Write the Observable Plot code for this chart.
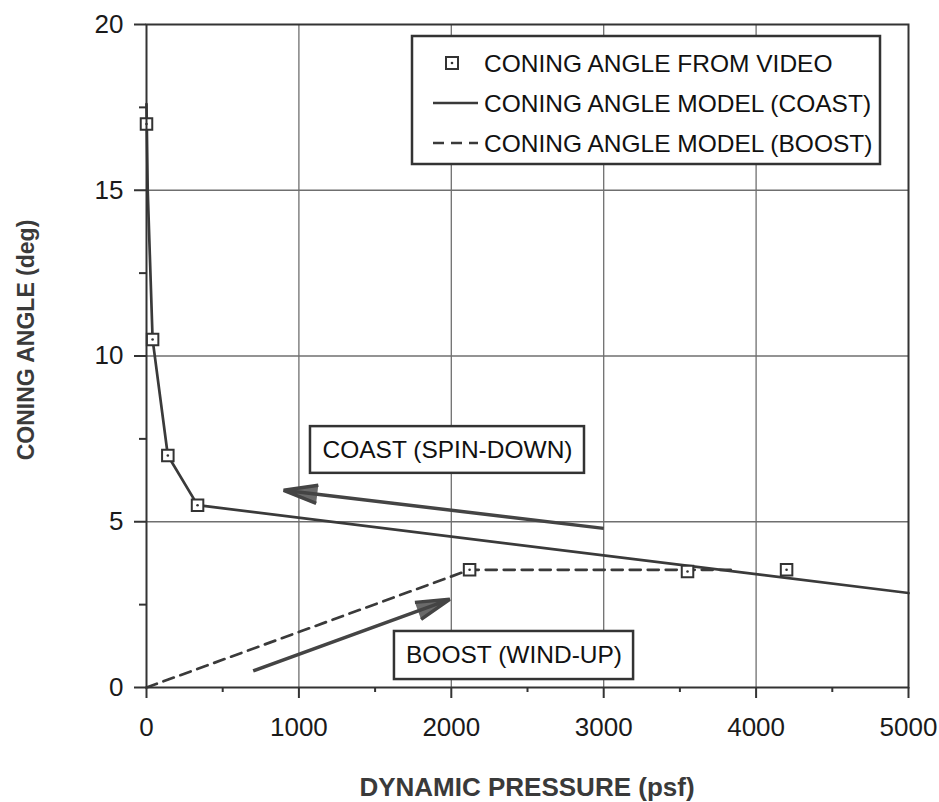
<!DOCTYPE html>
<html><head><meta charset="utf-8">
<script src="https://cdn.jsdelivr.net/npm/d3@7"></script>
<script src="https://cdn.jsdelivr.net/npm/@observablehq/plot@0.6"></script>
<style>html,body{margin:0;padding:0;background:#fff} svg{display:block}</style>
</head><body><div id="chart"></div>
<script>
// ---- data ----
const videoX = [0, 40, 140, 335, 2120, 3550, 4200];
const videoY = [17.0, 10.5, 7.0, 5.5, 3.55, 3.5, 3.55];
const coastX = [0, 8, 40, 140, 335, 5000];
const coastY = [17.6, 15.0, 10.5, 7.0, 5.5, 2.85];
const boostX = [0, 2120, 3870];
const boostY = [0, 3.55, 3.55];
const xTicks = [0, 1000, 2000, 3000, 4000, 5000];
const xMinor = [500, 1500, 2500, 3500, 4500];
const yTicks = [0, 5, 10, 15, 20];
const yMinor = [2.5, 7.5, 12.5, 17.5];
const arrowX1 = [3000, 700];
const arrowY1 = [4.8, 0.5];
const arrowX2 = [900, 1990];
const arrowY2 = [5.95, 2.66];
const noteText = ["COAST (SPIN-DOWN)", "BOOST (WIND-UP)"];
const noteX1 = [1076, 1627];
const noteX2 = [2874, 3196];
const noteY1 = [6.46, 0.24];
const noteY2 = [7.87, 1.69];
const legendLabels = ["CONING ANGLE FROM VIDEO", "CONING ANGLE MODEL (COAST)", "CONING ANGLE MODEL (BOOST)"];
const xLabel = "DYNAMIC PRESSURE (psf)";
const yLabel = "CONING ANGLE (deg)";

// ---- tables built from arrays ----
const video = videoX.map((x, i) => ({x, y: videoY[i]}));
const coast = coastX.map((x, i) => ({x, y: coastY[i]}));
const boost = boostX.map((x, i) => ({x, y: boostY[i]}));
const arrows = arrowX1.map((_, i) => ({x1: arrowX1[i], y1: arrowY1[i], x2: arrowX2[i], y2: arrowY2[i]}));
const notes = noteText.map((t, i) => ({t, x1: noteX1[i], x2: noteX2[i], y1: noteY1[i], y2: noteY2[i],
  cx: (noteX1[i] + noteX2[i]) / 2, cy: (noteY1[i] + noteY2[i]) / 2}));

const ink = "#333";
const font = "'Liberation Sans', Arial, Helvetica, sans-serif";
const fmt = d3.format("d");

const plot = Plot.plot({
  width: 939, height: 802,
  marginLeft: 146, marginRight: 31, marginTop: 24, marginBottom: 115,
  x: {domain: [0, 5000]},
  y: {domain: [0, 20]},
  style: {fontFamily: font, color: "#1a1a1a", background: "#fff", overflow: "visible"},
  marks: [
    Plot.gridX(xTicks.slice(1, -1), {stroke: "#6f6f6f", strokeOpacity: 1, strokeWidth: 1.3}),
    Plot.gridY(yTicks.slice(1, -1), {stroke: "#6f6f6f", strokeOpacity: 1, strokeWidth: 1.3}),
    Plot.axisX(xTicks, {tickSize: 11, tickPadding: 19, fontSize: 26, tickFormat: fmt, stroke: ink, strokeWidth: 2, label: null}),
    Plot.axisX(xMinor, {tickSize: 5, tickFormat: () => "", stroke: ink, strokeWidth: 2, label: null}),
    Plot.axisY(yTicks, {tickSize: 12, tickPadding: 11, fontSize: 26, tickFormat: fmt, stroke: ink, strokeWidth: 2, label: null}),
    Plot.axisY(yMinor, {tickSize: 7, tickFormat: () => "", stroke: ink, strokeWidth: 2, label: null}),
    Plot.rect(notes, {x1: "x1", x2: "x2", y1: "y1", y2: "y2", fill: "#fff", stroke: ink, strokeWidth: 2.5}),
    Plot.text(notes, {x: "cx", y: "cy", text: "t", fontSize: 24.5, fill: "#111"}),
    Plot.line(coast, {x: "x", y: "y", stroke: "#3a3a3a", strokeWidth: 2.7}),
    Plot.line(boost, {x: "x", y: "y", stroke: "#3a3a3a", strokeWidth: 2.7, strokeDasharray: "11,7"}),
    Plot.arrow(arrows, {x1: "x1", y1: "y1", x2: "x2", y2: "y2", stroke: "#444", fill: "#6a6a6a",
      strokeWidth: 3.5, headLength: 15, headAngle: 30, strokeLinecap: "butt"}),
    Plot.dot(video, {x: "x", y: "y", symbol: "square", r: 6.5, stroke: ink, strokeWidth: 2, fill: "#fff"}),
    Plot.dot(video, {x: "x", y: "y", r: 1.3, fill: ink}),
    Plot.frame({stroke: ink, strokeWidth: 2})
  ]
});

document.getElementById("chart").appendChild(plot);

// ---- legend and axis titles ----
const svg = d3.select(plot);
const lg = svg.append("g").attr("font-family", font).attr("text-anchor", "start");
lg.append("rect").attr("x", 412).attr("y", 36).attr("width", 468).attr("height", 128)
  .attr("fill", "#fff").attr("stroke", ink).attr("stroke-width", 2.5);
const rowY = [63, 103, 143];
lg.append("rect").attr("x", 446).attr("y", rowY[0] - 6).attr("width", 12).attr("height", 12)
  .attr("fill", "#fff").attr("stroke", ink).attr("stroke-width", 2);
lg.append("circle").attr("cx", 452).attr("cy", rowY[0]).attr("r", 1.3).attr("fill", ink);
lg.append("line").attr("x1", 433).attr("x2", 478).attr("y1", rowY[1]).attr("y2", rowY[1])
  .attr("stroke", "#3a3a3a").attr("stroke-width", 2.5);
lg.append("line").attr("x1", 433).attr("x2", 478).attr("y1", rowY[2]).attr("y2", rowY[2])
  .attr("stroke", "#3a3a3a").attr("stroke-width", 2.5).attr("stroke-dasharray", "11,7");
legendLabels.forEach((t, i) => {
  lg.append("text").attr("x", 484).attr("y", rowY[i]).attr("dy", "0.35em")
    .attr("text-anchor", "start").attr("font-size", 24.5).attr("fill", "#111").text(t);
});
svg.append("text").attr("x", 527).attr("y", 796).attr("text-anchor", "middle")
  .attr("font-family", font).attr("font-weight", "bold").attr("font-size", 26).attr("fill", "#3a3a3a").text(xLabel);
svg.append("text").attr("transform", "translate(34,340) rotate(-90)").attr("text-anchor", "middle")
  .attr("font-family", font).attr("font-weight", "bold").attr("font-size", 23).attr("fill", "#3a3a3a").text(yLabel);
</script>
</body></html>
